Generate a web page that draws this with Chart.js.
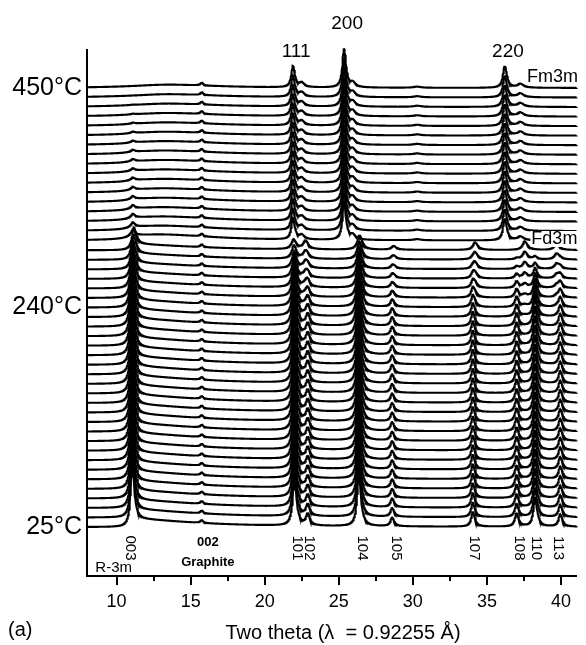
<!DOCTYPE html>
<html>

<head>
    <title>In situ XRD waterfall</title>
    <script src="https://cdn.jsdelivr.net/npm/chart.js"></script>
    <style>
        body { margin: 0; background: #fff; }
    </style>
</head>

<body>
    <canvas id="xrdChart" width="586" height="645"></canvas>

    <script>
        // temperature labels on the left and the trace they sit on
        const tempLabels = ['25°C', '240°C', '450°C'];
        const tempTrace = [0, 23, 46];

        // x axis ticks
        const xTickValues = [10, 15, 20, 25, 30, 35, 40];
        const xMinorTicks = [12.5, 17.5, 22.5, 27.5, 32.5, 37.5];

        // layered R-3m pattern (two theta, height in trace spacings, half widths left/right)
        const r3mPos    = [11.05, 11.05, 15.75, 22.0, 22.9, 26.35, 28.6, 34.05, 37.0, 38.25, 39.95];
        const r3mHeight = [6.5,   0.8,   0.3,   5.0,  1.2,  5.5,   0.9,  1.5,   1.4,  3.0,   1.3];
        const r3mWidthL = [0.13,  0.05,  0.12,  0.14, 0.14, 0.14,  0.14, 0.14,  0.14, 0.14,  0.14];
        const r3mWidthR = [0.15,  5,     0.12,  0.17, 0.17, 0.17,  0.17, 0.17,  0.17, 0.17,  0.17];

        // spinel Fd3m pattern
        const fd3mPos    = [11.15, 11.15, 15.75, 21.95, 22.75, 26.4, 28.7, 34.2, 37.55, 39.7];
        const fd3mHeight = [1.8,   0.6,   0.3,   1.0,   0.9,   1.5,  0.4,  0.8,  0.9,   0.7];
        const fd3mWidthL = [0.18,  0.05,  0.12,  0.18,  0.18,  0.18, 0.18, 0.18, 0.18,  0.18];
        const fd3mWidthR = [0.22,  5,     0.12,  0.22,  0.22,  0.22, 0.22, 0.22, 0.24,  0.22];

        // rock salt Fm3m pattern
        const fm3mPos    = [13.5, 15.75, 21.9, 22.5, 25.35, 25.95, 30.3, 36.2, 37.25];
        const fm3mHeight = [0.35, 0.3,   2.2,  0.45, 4.0,   0.45,  0.12, 2.3,  0.4];
        const fm3mWidthL = [3,    0.12,  0.13, 0.18, 0.13,  0.18,  0.3,  0.14, 0.22];
        const fm3mWidthR = [4,    0.12,  0.16, 0.22, 0.16,  0.22,  0.3,  0.17, 0.28];

        // leftover low angle peak in the rock salt traces
        const residualPos    = [11.1, 11.1];
        const residualHeight = [1.0,  0.6];
        const residualWidthL = [0.14, 0.5];
        const residualWidthR = [0.17, 5];

        // phase weight of every trace, bottom (25°C) to top (450°C)
        const wR3m = [1, 1, 1, 1, 1, 1, 1, 1, 1, 1, 1, 1, 1, 1, 1, 1, 1, 1, 1, 1, 1, 1,
            0.9, 0.8, 0.65, 0.5, 0.35, 0.2, 0.1, 0,
            0, 0, 0, 0, 0, 0, 0, 0, 0, 0, 0, 0, 0, 0, 0, 0, 0];
        const wFd3m = [0, 0, 0, 0, 0, 0, 0, 0, 0, 0, 0, 0, 0, 0, 0, 0, 0, 0, 0, 0, 0, 0,
            0.1, 0.2, 0.35, 0.5, 0.65, 0.8, 0.9, 1,
            0, 0, 0, 0, 0, 0, 0, 0, 0, 0, 0, 0, 0, 0, 0, 0, 0];
        const wFm3m = [0, 0, 0, 0, 0, 0, 0, 0, 0, 0, 0, 0, 0, 0, 0, 0, 0, 0, 0, 0, 0, 0,
            0, 0, 0, 0, 0, 0, 0, 0,
            1, 1, 1, 1, 1, 1, 1, 1, 1, 1, 1, 1, 1, 1, 1, 1, 1];
        const wResidual = [0, 0, 0, 0, 0, 0, 0, 0, 0, 0, 0, 0, 0, 0, 0, 0, 0, 0, 0, 0, 0, 0,
            0, 0, 0, 0, 0, 0, 0, 0,
            0.6, 0.45, 0.38, 0.33, 0.3, 0.28, 0.26, 0.24, 0.22, 0.2, 0.17, 0.14, 0.1, 0.06, 0.03, 0, 0];

        // reflection labels
        const hklLabels = ['003', '101', '102', '104', '105', '107', '108', '110', '113'];
        const hklTheta = [10.93, 22.19, 22.98, 26.56, 28.87, 34.17, 37.15, 38.34, 39.8];
        const topLabels = ['111', '200', '220'];
        const topTheta = [22.12, 25.56, 36.42];
        const topLevel = [49.77, 52.7, 49.77];

        const thetaMin = 8, thetaMax = 41.06, thetaStep = 0.02;

        function peakSum(t, pos, h, wl, wr) {
            let s = 0;
            for (let k = 0; k < pos.length; k++) {
                const d = t - pos[k];
                const w = d < 0 ? wl[k] : wr[k];
                s += h[k] / (1 + (d / w) * (d / w));
            }
            return s;
        }

        function buildTrace(i) {
            const pts = [];
            const n = Math.round((thetaMax - thetaMin) / thetaStep);
            for (let j = 0; j <= n; j++) {
                const t = thetaMin + j * thetaStep;
                let v = i;
                if (wR3m[i]) v += wR3m[i] * peakSum(t, r3mPos, r3mHeight, r3mWidthL, r3mWidthR);
                if (wFd3m[i]) v += wFd3m[i] * peakSum(t, fd3mPos, fd3mHeight, fd3mWidthL, fd3mWidthR);
                if (wFm3m[i]) v += wFm3m[i] * peakSum(t, fm3mPos, fm3mHeight, fm3mWidthL, fm3mWidthR);
                if (wResidual[i]) v += wResidual[i] * peakSum(t, residualPos, residualHeight, residualWidthL, residualWidthR);
                pts.push({ x: t, y: v });
            }
            return pts;
        }

        const datasets = wR3m.map((_, i) => ({
            data: buildTrace(i),
            borderColor: '#000',
            borderWidth: 2.1,
            pointRadius: 0,
            tension: 0,
            clip: false
        }));

        const FONT = "'Liberation Sans', Arial, sans-serif";

        const decorations = {
            id: 'decorations',
            afterDraw(chart) {
                const { ctx, chartArea } = chart;
                const x = chart.scales.x, y = chart.scales.y;
                ctx.save();
                ctx.strokeStyle = '#000';
                ctx.lineWidth = 2;
                const ay = chartArea.bottom;
                ctx.beginPath();
                xTickValues.forEach(v => {
                    const px = Math.round(x.getPixelForValue(v));
                    ctx.moveTo(px, ay); ctx.lineTo(px, ay + 9);
                });
                xMinorTicks.forEach(v => {
                    const px = Math.round(x.getPixelForValue(v));
                    ctx.moveTo(px, ay); ctx.lineTo(px, ay + 5);
                });
                ctx.stroke();

                ctx.fillStyle = '#000';
                ctx.textBaseline = 'middle';

                // rotated hkl labels
                ctx.font = '15px ' + FONT;
                ctx.textAlign = 'center';
                hklLabels.forEach((txt, k) => {
                    ctx.save();
                    ctx.translate(x.getPixelForValue(hklTheta[k]), y.getPixelForValue(-2.2));
                    ctx.rotate(Math.PI / 2);
                    ctx.fillText(txt, 0, 0);
                    ctx.restore();
                });

                ctx.font = '19px ' + FONT;
                topLabels.forEach((txt, k) => {
                    ctx.fillText(txt, x.getPixelForValue(topTheta[k]), y.getPixelForValue(topLevel[k]));
                });

                ctx.font = '18px ' + FONT;
                ctx.textAlign = 'left';
                ctx.fillText('Fm3m', x.getPixelForValue(37.7), y.getPixelForValue(47.15));
                const fdX = x.getPixelForValue(38.0), fdY = y.getPixelForValue(30.18);
                const fdW = ctx.measureText('Fd3m').width;
                ctx.fillStyle = '#fff';
                ctx.fillRect(fdX - 1, fdY - 8, fdW + 2, 16);
                ctx.fillStyle = '#000';
                ctx.fillText('Fd3m', fdX, fdY);

                ctx.textAlign = 'center';
                ctx.font = '15px ' + FONT;
                ctx.fillText('R-3m', x.getPixelForValue(9.8), y.getPixelForValue(-4.3));
                ctx.font = 'bold 13px ' + FONT;
                ctx.fillText('002', x.getPixelForValue(16.16), y.getPixelForValue(-1.57));
                ctx.fillText('Graphite', x.getPixelForValue(16.16), y.getPixelForValue(-3.67));

                ctx.font = '20px ' + FONT;
                ctx.fillText('Two theta (λ  = 0.92255 Å)', 343, 633);
                ctx.textAlign = 'left';
                ctx.fillText('(a)', 8, 630);
                ctx.restore();
            }
        };

        new Chart(document.getElementById('xrdChart').getContext('2d'), {
            type: 'line',
            data: { datasets },
            options: {
                responsive: false,
                animation: false,
                parsing: false,
                normalized: true,
                layout: { padding: { top: 50, right: 0, bottom: 0, left: 0 } },
                plugins: { legend: { display: false }, tooltip: { enabled: false } },
                scales: {
                    x: {
                        type: 'linear',
                        min: thetaMin,
                        max: thetaMax,
                        grid: { display: false, drawTicks: false },
                        border: { display: true, color: '#000', width: 2 },
                        ticks: { color: '#000', font: { family: FONT, size: 18 }, padding: 15, maxRotation: 0, autoSkip: false },
                        afterBuildTicks: s => { s.ticks = xTickValues.map(v => ({ value: v })); },
                        afterFit: s => { s.height = 69; }
                    },
                    y: {
                        type: 'linear',
                        min: -5.13,
                        max: 49.98,
                        grid: { display: false, drawTicks: false },
                        border: { display: true, color: '#000', width: 2 },
                        ticks: {
                            color: '#000', font: { family: FONT, size: 25 }, padding: 5,
                            callback: (v, idx) => tempLabels[idx]
                        },
                        afterBuildTicks: s => { s.ticks = tempTrace.map(v => ({ value: v })); },
                        afterFit: s => { s.width = 87; }
                    }
                }
            },
            plugins: [decorations]
        });
    </script>
</body>

</html>
